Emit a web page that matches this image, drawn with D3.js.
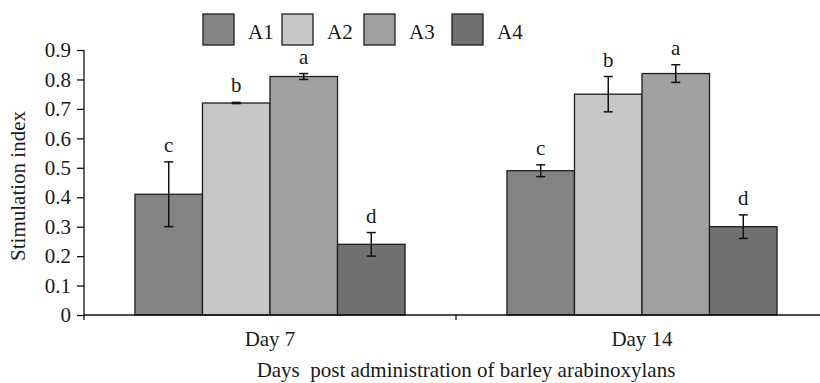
<!DOCTYPE html>
<html>
<head>
<meta charset="utf-8">
<script src="https://cdn.jsdelivr.net/npm/d3@7"></script>
<style>
  body { margin: 0; background: #fff; }
  svg text { font-family: "Liberation Serif", "DejaVu Serif", serif; fill: #1a1a1a; }
</style>
</head>
<body>
<svg width="820" height="383"></svg>
<script>
// chart values
const days = ["Day 7", "Day 14"];
const groups = ["A1", "A2", "A3", "A4"];
const day7 = [0.41, 0.72, 0.81, 0.24];
const day14 = [0.49, 0.75, 0.82, 0.30];
const err7 = [0.11, 0.002, 0.01, 0.04];
const err14 = [0.02, 0.06, 0.03, 0.04];
const letters7 = ["c", "b", "a", "d"];
const letters14 = ["c", "b", "a", "d"];
const yTicks = [0, 0.1, 0.2, 0.3, 0.4, 0.5, 0.6, 0.7, 0.8, 0.9];
const colors = ["#848485", "#c6c7c9", "#a0a0a2", "#717173"];

const svg = d3.select("svg");
const plotL = 84, plotR = 828, plotT = 50, plotB = 315;
const fs = 21;

const y = d3.scaleLinear().domain([0, 0.9]).range([plotB, plotT]);
const x0 = d3.scaleBand().domain(days).range([plotL, plotR])
  .paddingInner(0.274).paddingOuter(0.137);
const x1 = d3.scaleBand().domain(groups).range([0, x0.bandwidth()]);
const color = d3.scaleOrdinal().domain(groups).range(colors);

let rows = [];
days.forEach((d, i) => {
  const vals = i == 0 ? day7 : day14;
  const errs = i == 0 ? err7 : err14;
  const lets = i == 0 ? letters7 : letters14;
  groups.forEach((g, j) => {
    rows.push({day: d, group: g, v: vals[j], e: errs[j], l: lets[j]});
  });
});

// bars
svg.append("g").selectAll("rect").data(rows).join("rect")
  .attr("x", d => x0(d.day) + x1(d.group))
  .attr("y", d => y(d.v))
  .attr("width", x1.bandwidth())
  .attr("height", d => y(0) - y(d.v))
  .attr("fill", d => color(d.group))
  .attr("stroke", "#1e1e1e")
  .attr("stroke-width", 1.3);

// error bars
const eb = svg.append("g").attr("stroke", "#111").attr("stroke-width", 1.5);
rows.forEach(d => {
  const cx = x0(d.day) + x1(d.group) + x1.bandwidth() / 2;
  eb.append("line").attr("x1", cx).attr("x2", cx).attr("y1", y(d.v + d.e)).attr("y2", y(d.v - d.e));
  eb.append("line").attr("x1", cx - 4.5).attr("x2", cx + 4.5).attr("y1", y(d.v + d.e)).attr("y2", y(d.v + d.e));
  eb.append("line").attr("x1", cx - 4.5).attr("x2", cx + 4.5).attr("y1", y(d.v - d.e)).attr("y2", y(d.v - d.e));
});

// significance letters
svg.append("g").selectAll("text").data(rows).join("text")
  .attr("x", d => x0(d.day) + x1(d.group) + x1.bandwidth() / 2)
  .attr("y", d => y(d.v + d.e) - 10)
  .attr("text-anchor", "middle")
  .attr("font-size", fs)
  .text(d => d.l);

// y axis
const yAxis = svg.append("g").attr("transform", `translate(${plotL},0)`)
  .call(d3.axisLeft(y).tickValues(yTicks).tickSize(7).tickPadding(6)
    .tickFormat(d => d == 0 ? "0" : d3.format(".1f")(d)));
yAxis.selectAll("path, line").attr("stroke", "#111").attr("stroke-width", 1.3);
yAxis.select(".domain").attr("d", `M0,${plotT}V${plotB}`);
yAxis.selectAll("text").attr("font-size", fs).attr("font-family", "Liberation Serif").attr("fill", "#1a1a1a");

// x axis: line with ticks between the days
const xg = svg.append("g");
xg.append("line").attr("x1", plotL).attr("x2", plotR).attr("y1", plotB).attr("y2", plotB)
  .attr("stroke", "#111").attr("stroke-width", 1.5);
const bounds = [x0.range()[0], (x0(days[0]) + x0(days[1]) + x0.bandwidth()) / 2];
xg.selectAll(".tk").data(bounds).join("line")
  .attr("x1", d => d).attr("x2", d => d).attr("y1", plotB).attr("y2", plotB + 5)
  .attr("stroke", "#111").attr("stroke-width", 1.3);
xg.selectAll(".lab").data(days).join("text")
  .attr("x", d => x0(d) + x0.bandwidth() / 2)
  .attr("y", 346)
  .attr("text-anchor", "middle")
  .attr("font-size", fs)
  .text(d => d);

// axis titles
svg.append("text").attr("x", 466).attr("y", 377).attr("text-anchor", "middle")
  .attr("font-size", fs).attr("xml:space", "preserve")
  .text("Days  post administration of barley arabinoxylans");
svg.append("text").attr("transform", "translate(25,186) rotate(-90)")
  .attr("text-anchor", "middle").attr("font-size", fs)
  .text("Stimulation index");

// legend
const legX = [203, 282, 364, 452];
const leg = svg.append("g").selectAll("g").data(groups).join("g")
  .attr("transform", (d, i) => `translate(${legX[i]},14)`);
leg.append("rect").attr("width", 31).attr("height", 31)
  .attr("fill", d => color(d)).attr("stroke", "#1e1e1e").attr("stroke-width", 1.3);
leg.append("text").attr("x", 45).attr("y", 25).attr("font-size", fs).text(d => d);
</script>
</body>
</html>
